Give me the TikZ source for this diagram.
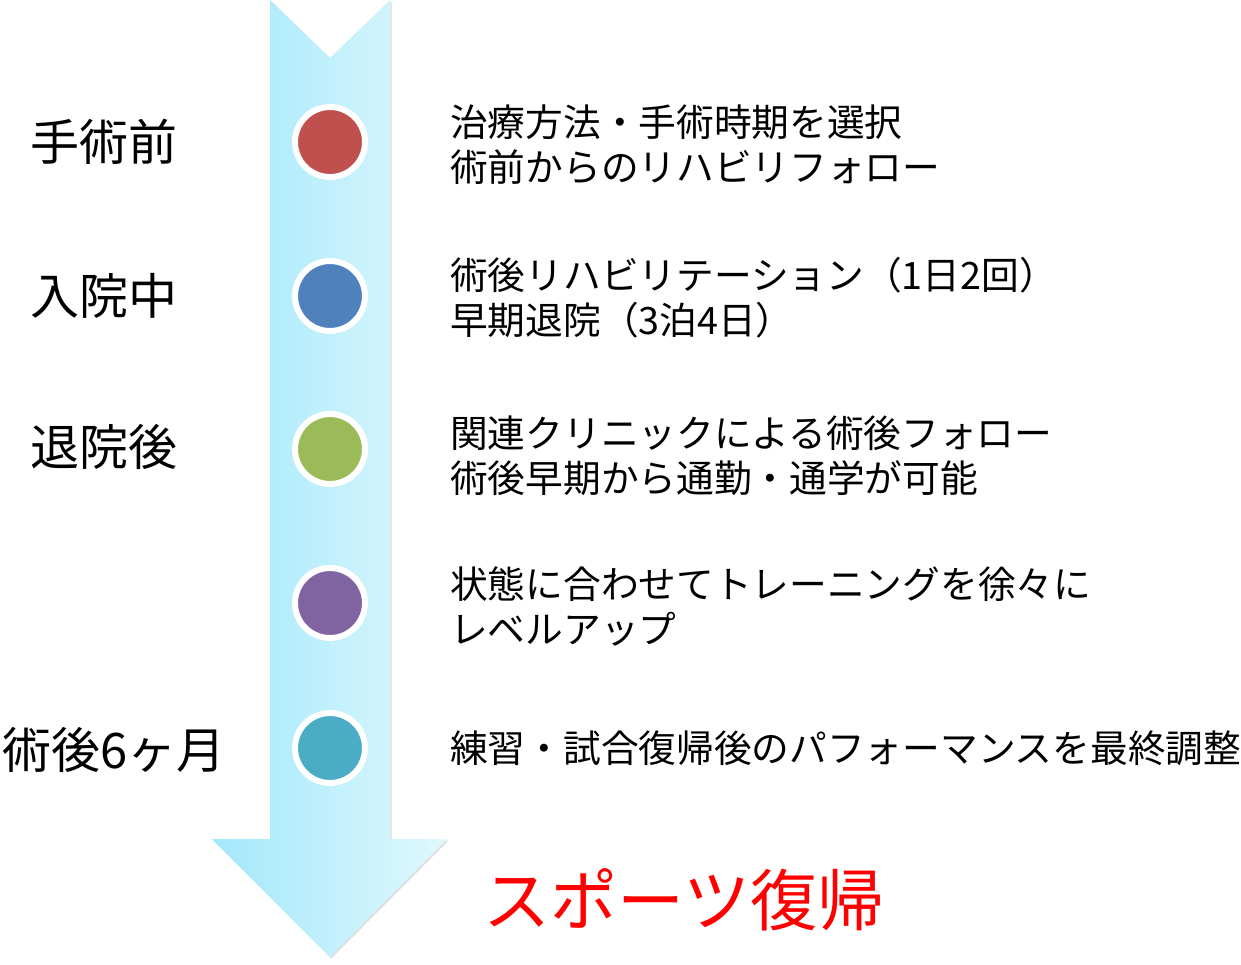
\documentclass[tikz,border=0pt]{standalone}
\usepackage{xcolor}
\usepackage{fontspec}
\setmainfont{Noto Sans CJK JP}
\usetikzlibrary{shadows, positioning}

\definecolor{arrowL}{HTML}{A3E8FB}
\definecolor{arrowR}{HTML}{E0F8FD}
\definecolor{stepred}{HTML}{C0504D}
\definecolor{stepblue}{HTML}{4F81BD}
\definecolor{stepgreen}{HTML}{9BBB59}
\definecolor{steppurple}{HTML}{8064A2}
\definecolor{stepteal}{HTML}{4BACC6}

\tikzset{
  arrowbody/.style={left color=arrowL, right color=arrowR,
    drop shadow={opacity=0.25, shadow xshift=1.5pt, shadow yshift=-1.5pt}},
  dot/.style={circle, draw=white, line width=6pt, minimum size=70pt, inner sep=0pt,
    drop shadow={opacity=0.35, shadow xshift=0pt, shadow yshift=-3pt}},
  phase/.style={inner sep=0pt, font=\fontsize{49pt}{55pt}\selectfont},
  note/.style={inner sep=0pt, anchor=west, align=left, font=\fontsize{37.7pt}{45pt}\selectfont},
}

\begin{document}
\begin{tikzpicture}[x=1pt, y=-1pt]
        \useasboundingbox (0,0) rectangle (1241,964);
        % big arrow
        \path[arrowbody] (270,0) -- (330,58) -- (390,0) -- (390,839) -- (447,839)
          -- (330,957) -- (212,839) -- (270,839) -- cycle;
        \begin{scope}[every node/.style={dot}]
          \node[fill=stepred] (d1) at (330,142) {};
          \node[fill=stepblue] (d2) at (330,296) {};
          \node[fill=stepgreen] (d3) at (330,449) {};
          \node[fill=steppurple] (d4) at (330,603) {};
          \node[fill=stepteal] (d5) at (330,748) {};
        \end{scope}
        \begin{scope}[every node/.style={phase}]
          \node (pre) at (104,142) {手術前};
          \node (adm) at (104,296) {入院中};
          \node (post) at (104,447) {退院後};
          \node (six) at (114,750) {術後6ヶ月};
        \end{scope}
        \begin{scope}[every node/.style={note}]
          \node (n1) at (450,144.5) {治療方法・手術時期を選択\\術前からのリハビリフォロー};
          \node (n2) at (450,297.5) {術後リハビリテーション（1日2回）\\早期退院（3泊4日）};
          \node (n3) at (450,455.5) {関連クリニックによる術後フォロー\\術後早期から通勤・通学が可能};
          \node (n4) at (450,606.5) {状態に合わせてトレーニングを徐々に\\レベルアップ};
          \node (n5) at (450,748) {練習・試合復帰後のパフォーマンスを最終調整};
        \end{scope}
        \node[inner sep=0pt, text=red, font=\fontsize{67pt}{70pt}\selectfont] (goal) at (684,900) {スポーツ復帰};
      \end{tikzpicture}
\end{document}
